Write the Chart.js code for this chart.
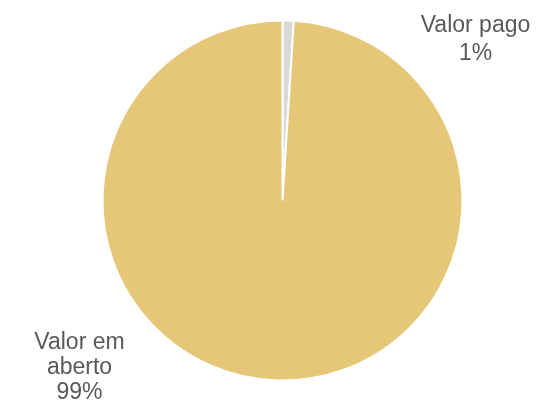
<!DOCTYPE html>
<html>
<head>
<meta charset="utf-8">
<script src="https://cdn.jsdelivr.net/npm/chart.js@4/dist/chart.umd.min.js"></script>
<style>
html,body{margin:0;padding:0;background:#fff;}
#wrap{width:536px;height:406px;position:relative;}
</style>
</head>
<body>
<div id="wrap"><canvas id="c" width="536" height="406"></canvas></div>
<script>
const categories = ["Valor pago", "Valor em aberto"];
const values = [1, 99];
const percentLabels = ["1%", "99%"];
const colors = ["#D9D9D9", "#E6C677"];

const labelPlugin = {
  id: 'sliceLabels',
  afterDraw(chart) {
    const ctx = chart.ctx;
    const ca = chart.chartArea;
    const cx = (ca.left + ca.right) / 2;
    const cy = (ca.top + ca.bottom) / 2;
    ctx.save();
    ctx.font = '23px "Liberation Sans", Arial, sans-serif';
    ctx.fillStyle = '#595959';
    ctx.textAlign = 'center';
    ctx.textBaseline = 'alphabetic';
    // label blocks: offset of first baseline relative to pie centre
    const blocks = [
      { dx: 193, dy: -169, gap: 28, lines: ["Valor pago", percentLabels[0]] },
      { dx: -203, dy: 148, gap: 25, lines: ["Valor em", "aberto", percentLabels[1]] }
    ];
    blocks.forEach(b => {
      b.lines.forEach((t, i) => ctx.fillText(t, cx + b.dx, cy + b.dy + i * b.gap));
    });
    ctx.restore();
  }
};

new Chart(document.getElementById('c'), {
  type: 'pie',
  data: {
    labels: categories,
    datasets: [{
      data: values,
      backgroundColor: colors,
      borderColor: '#FFFFFF',
      borderWidth: 2
    }]
  },
  options: {
    responsive: false,
    animation: false,
    layout: { padding: { top: 19.5, bottom: 24.5, left: 101.5, right: 72.5 } },
    plugins: { legend: { display: false }, tooltip: { enabled: false } }
  },
  plugins: [labelPlugin]
});
</script>
</body>
</html>
